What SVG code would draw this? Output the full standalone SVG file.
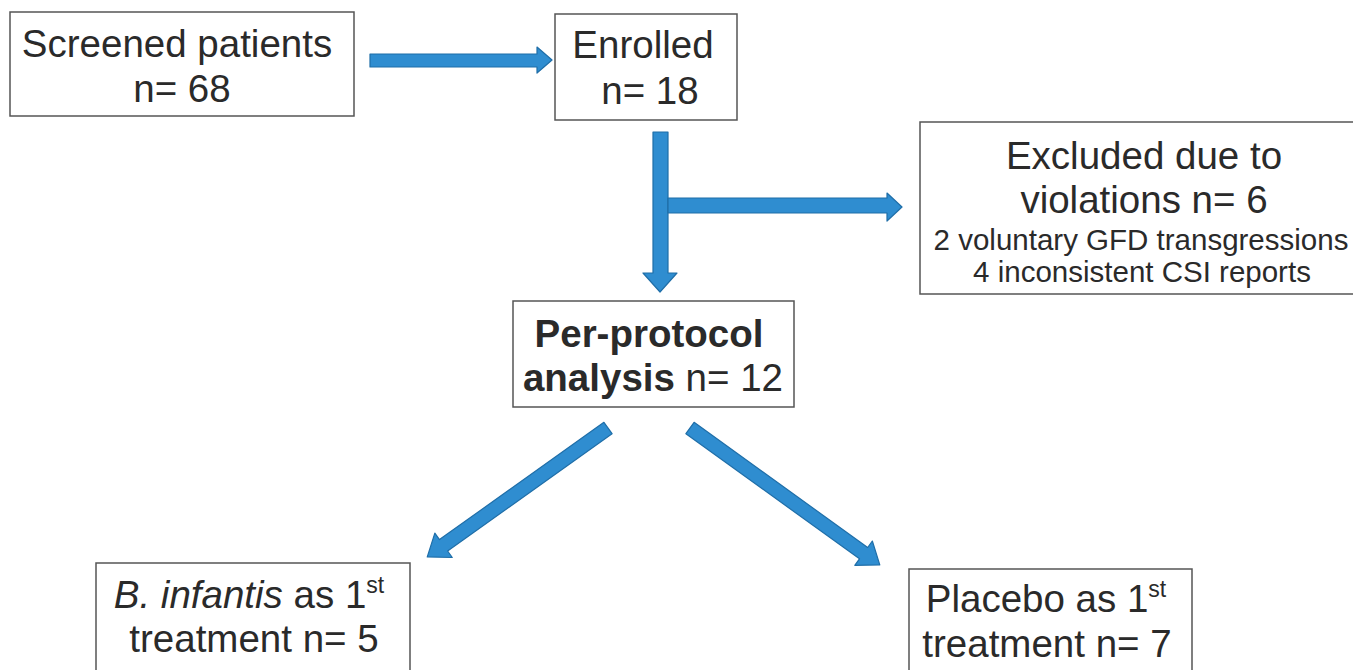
<svg xmlns="http://www.w3.org/2000/svg" width="1353" height="670" viewBox="0 0 1353 670">
<style>
.box{fill:#fff;stroke:#555;stroke-width:1.5}
.t{font-family:"Liberation Sans",Arial,sans-serif;font-size:38.5px;fill:#2a2a2a;text-anchor:middle}
.s{font-family:"Liberation Sans",Arial,sans-serif;font-size:29.5px;fill:#2a2a2a;text-anchor:middle}
.b{font-weight:bold}
.sup{font-size:23px}
.arr{fill:#2f8dd0;stroke:#1f6ea8;stroke-width:1.2;stroke-linejoin:round}
</style>
<rect width="1353" height="670" fill="#fff"/>
<g id="connectors">
<polygon class="arr" points="370,54 537,54 537,47 552,60 537,73 537,67 370,67"/>
<polygon class="arr" points="653,132 668,132 668,273 677,273 660,292 643,273 653,273"/>
<polygon class="arr" points="668,198 887,198 887,193 902,207 887,221 887,213 668,213"/>
<polygon class="arr" transform="translate(608,428) rotate(144.5)" points="0,-7 202,-7 202,-15 222,0 202,15 202,7 0,7"/>
<polygon class="arr" transform="translate(690,428) rotate(35.8)" points="0,-7 214,-7 214,-15 234,0 214,15 214,7 0,7"/>
</g>
<g id="screened">
<rect class="box" x="10" y="12" width="344" height="104"/>
<text class="t" x="177" y="57">Screened patients</text>
<text class="t" x="182" y="102">n= 68</text>
</g>
<g id="enrolled">
<rect class="box" x="555" y="14" width="182" height="106"/>
<text class="t" x="643" y="58">Enrolled</text>
<text class="t" x="650" y="104">n= 18</text>
</g>
<g id="excluded">
<rect class="box" x="920" y="122" width="440" height="172"/>
<text class="t" x="1144" y="169">Excluded due to</text>
<text class="t" x="1144" y="213">violations n= 6</text>
<text class="s" x="1141" y="250">2 voluntary GFD transgressions</text>
<text class="s" x="1142" y="282">4 inconsistent CSI reports</text>
</g>
<g id="perprotocol">
<rect class="box" x="513" y="301" width="281" height="106"/>
<text class="t b" x="649" y="347">Per-protocol</text>
<text class="t" x="653" y="391"><tspan class="b">analysis</tspan> n= 12</text>
</g>
<g id="infantis">
<rect class="box" x="96" y="563" width="314" height="120"/>
<text class="t" x="249" y="608"><tspan font-style="italic">B. infantis</tspan> as 1<tspan class="sup" dy="-15">st</tspan></text>
<text class="t" x="254" y="652">treatment n= 5</text>
</g>
<g id="placebo">
<rect class="box" x="909" y="569" width="283" height="120"/>
<text class="t" x="1046" y="612">Placebo as 1<tspan class="sup" dy="-15">st</tspan></text>
<text class="t" x="1047" y="657">treatment n= 7</text>
</g>
</svg>
